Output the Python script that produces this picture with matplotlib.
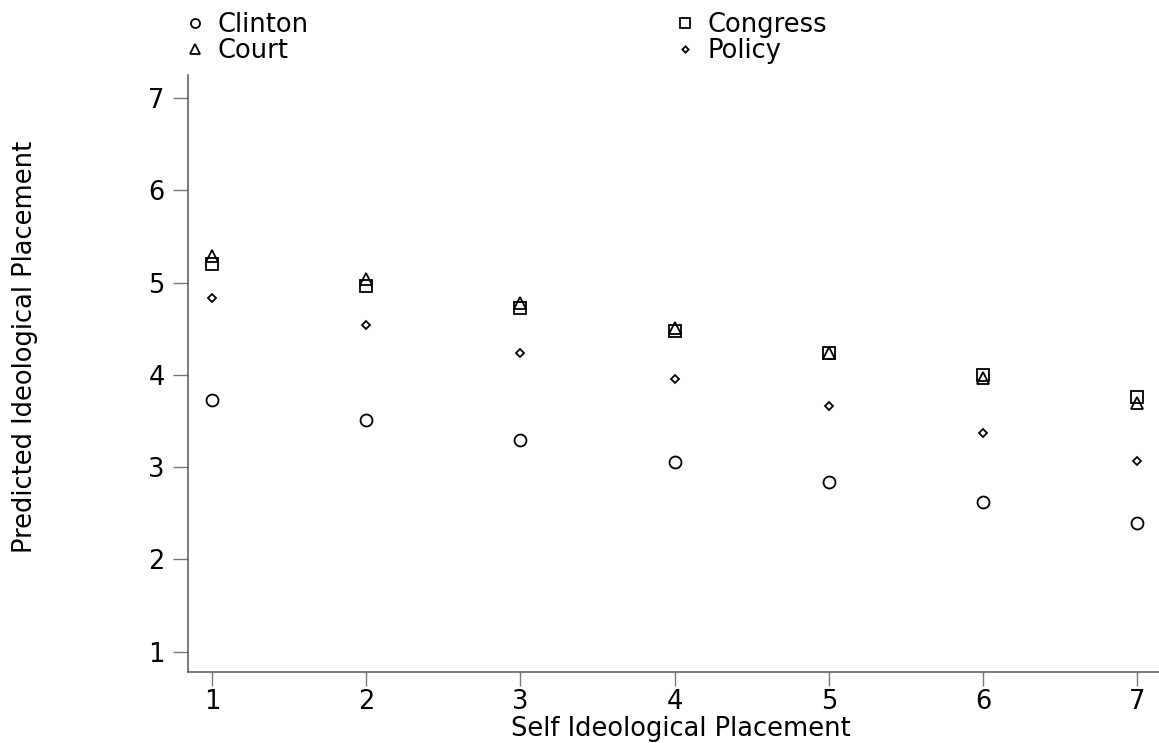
import matplotlib.pyplot as plt
from matplotlib.lines import Line2D

plt.rcParams['font.family'] = ['DejaVu Sans']

# self placement on the x axis
self_place = [1, 2, 3, 4, 5, 6, 7]

# predicted placements
clinton = [3.73, 3.51, 3.29, 3.06, 2.84, 2.62, 2.40]
congress = [5.20, 4.96, 4.72, 4.48, 4.24, 4.00, 3.76]
court = [5.29, 5.04, 4.78, 4.51, 4.24, 3.97, 3.70]
policy = [4.83, 4.54, 4.24, 3.95, 3.66, 3.37, 3.07]

fs = 18.5
fig = plt.figure(figsize=(11.59, 7.43), dpi=100)
ax = fig.add_axes([188 / 1159, 71 / 743, 971 / 1159, 597 / 743])

mk = dict(linestyle='none', markerfacecolor='none', markeredgecolor='black',
          markeredgewidth=1.3)
ax.plot(self_place, clinton, marker='o', markersize=8.6, label='Clinton', **mk)
ax.plot(self_place, court, marker='^', markersize=8.8, label='Court', **mk)
ax.plot(self_place, congress, marker='s', markersize=8.2, label='Congress', **mk)
ax.plot(self_place, policy, marker='D', markersize=4.0, label='Policy', **mk)

ax.set_xlim(0.845, 7.14)
ax.set_ylim(0.78, 7.25)
ax.set_xticks(self_place)
ax.set_yticks([1, 2, 3, 4, 5, 6, 7])

for side in ['top', 'right']:
    ax.spines[side].set_visible(False)
for side in ['left', 'bottom']:
    ax.spines[side].set_color('#555555')
    ax.spines[side].set_linewidth(1.1)

ax.tick_params(axis='x', length=10, width=1.0, color='#777777', pad=2,
               labelsize=fs)
ax.tick_params(axis='y', length=10.8, width=1.0, color='#777777', pad=6,
               labelsize=fs)

fig.text(681 / 1159, 1 - 729 / 743, 'Self Ideological Placement',
         ha='center', va='center', fontsize=fs)
fig.text(25 / 1159, 1 - 347 / 743, 'Predicted Ideological Placement',
         ha='center', va='center', rotation=90, fontsize=fs)

def handle(m, size):
    return Line2D([], [], marker=m, markersize=size, **mk)

leg_kw = dict(frameon=False, fontsize=fs, handlelength=0.8, handletextpad=0.45,
              borderpad=0, borderaxespad=0, labelspacing=0.0, loc='upper left')
fig.legend([handle('o', 6.5), handle('^', 6.5)], ['Clinton', 'Court'],
           bbox_to_anchor=(185 / 1159, 1 - 12 / 743), **leg_kw)
fig.legend([handle('s', 6.5), handle('D', 3.2)], ['Congress', 'Policy'],
           bbox_to_anchor=(675 / 1159, 1 - 12 / 743), **leg_kw)

fig.savefig('out.png', dpi=100)
